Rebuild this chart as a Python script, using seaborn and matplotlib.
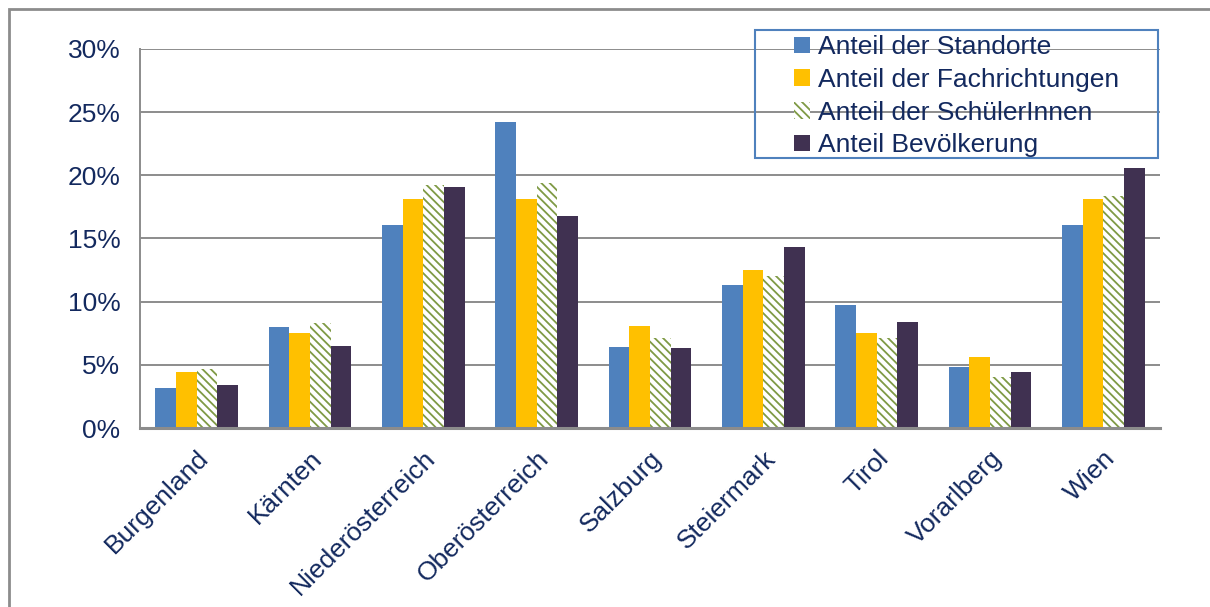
import matplotlib
matplotlib.use("Agg")
import matplotlib.pyplot as plt
from matplotlib.patches import Rectangle
from matplotlib.ticker import PercentFormatter
import seaborn as sns
import pandas as pd

# Bundesländer und Anteile (in Prozent)
laender = ["Burgenland", "Kärnten", "Niederösterreich", "Oberösterreich",
           "Salzburg", "Steiermark", "Tirol", "Vorarlberg", "Wien"]
reihen = ["Anteil der Standorte", "Anteil der Fachrichtungen",
          "Anteil der SchülerInnen", "Anteil Bevölkerung"]
standorte = [3.2, 8.0, 16.1, 24.2, 6.4, 11.3, 9.7, 4.8, 16.1]
fachrichtungen = [4.4, 7.5, 18.1, 18.1, 8.1, 12.5, 7.5, 5.6, 18.1]
schueler = [4.7, 8.3, 19.2, 19.4, 7.1, 12.0, 7.1, 4.0, 18.4]
bevoelkerung = [3.4, 6.5, 19.1, 16.8, 6.3, 14.3, 8.4, 4.4, 20.6]

werte = [standorte, fachrichtungen, schueler, bevoelkerung]
df = pd.DataFrame({
    "Land": [l for _ in reihen for l in laender],
    "Reihe": [r for r in reihen for _ in laender],
    "Wert": [v / 100 for serie in werte for v in serie],
})

navy = "#13295e"
farben = ["#4f81bd", "#ffc000", "#ffffff", "#403151"]
oliv = "#7f9a45"

sns.set_theme(style="white")
plt.rcParams["font.family"] = ["Liberation Sans", "DejaVu Sans"]
plt.rcParams["hatch.linewidth"] = 1.3

fig = plt.figure(figsize=(12.1, 6.07), dpi=100)
ax = fig.add_axes([140 / 1210, 1 - 428 / 607, 1020 / 1210, 379 / 607])

sns.barplot(data=df, x="Land", y="Wert", hue="Reihe", hue_order=reihen,
            order=laender, palette=farben, width=0.73, gap=0,
            linewidth=0, saturation=1, ax=ax, legend=False)

# Schraffur für die SchülerInnen-Reihe
for bar in ax.containers[2]:
    bar.set_facecolor("white")
    bar.set_edgecolor(oliv)
    bar.set_hatch("\\\\\\\\")
    bar.set_linewidth(0)

ax.set_ylim(0, 0.30)
ax.set_yticks([0, 0.05, 0.10, 0.15, 0.20, 0.25, 0.30])
ax.yaxis.set_major_formatter(PercentFormatter(1.0, decimals=0))
ax.set_xlabel("")
ax.set_ylabel("")
ax.grid(axis="y", color="#8c8c8c", linewidth=1.4)
ax.set_axisbelow(True)
for s in ["top", "right"]:
    ax.spines[s].set_visible(False)
ax.spines["left"].set_color("#8c8c8c")
ax.spines["left"].set_linewidth(1.4)
ax.spines["bottom"].set_color("#8c8c8c")
ax.spines["bottom"].set_linewidth(2.2)

ax.tick_params(axis="y", length=0, pad=14, labelsize=19, labelcolor=navy)
ax.tick_params(axis="x", length=0, pad=13, labelsize=19, labelcolor=navy)
for lab in ax.get_xticklabels():
    lab.set_rotation(45)
    lab.set_ha("right")
    lab.set_rotation_mode("anchor")

handles = [c.patches[0] for c in ax.containers]
leg = ax.legend(handles, reihen, loc="upper left",
                bbox_to_anchor=(789 / 1210, 1 - 30 / 607),
                bbox_transform=fig.transFigure,
                fontsize=19, frameon=False,
                handlelength=0.6, handleheight=0.6, handletextpad=0.3,
                labelspacing=0.33, borderpad=0.2, borderaxespad=0)
for t in leg.get_texts():
    t.set_color(navy)

# Legendenrahmen
fig.patches.append(Rectangle((755 / 1210, 1 - 158 / 607), 403 / 1210,
                             128 / 607, transform=fig.transFigure,
                             fill=False, edgecolor="#4f81bd", linewidth=1.5,
                             zorder=5))

# Rahmen der Grafik
fig.patches.append(Rectangle((9 / 1210, -0.1), 1.2, 1 - 9 / 607 + 0.1,
                             transform=fig.transFigure, fill=False,
                             edgecolor="#8c8c8c", linewidth=2))

fig.savefig("out.png", dpi=100)
